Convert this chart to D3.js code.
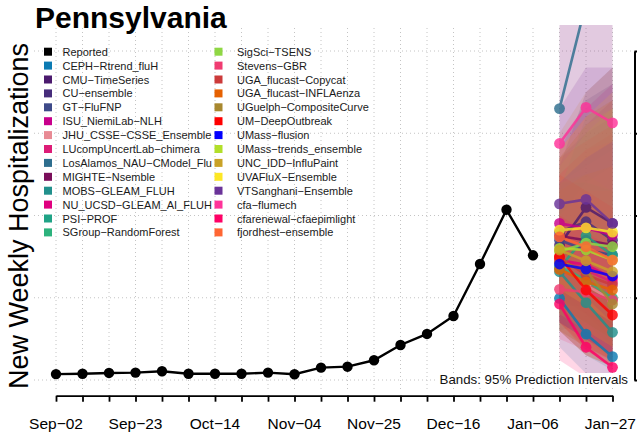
<!DOCTYPE html>
<html><head><meta charset="utf-8">
<script src="https://cdn.jsdelivr.net/npm/d3@7"></script>
<style>
body{margin:0;background:#fff}
svg{display:block;font-family:"Liberation Sans",Arial,Helvetica,sans-serif}
</style>
</head><body>
<svg id="c" width="637" height="433"></svg>
<script>
// ---------------- data ----------------
const title = "Pennsylvania";
const yLabel = "New Weekly Hospitalizations";
const bandNote = "Bands: 95% Prediction Intervals";

const weekDates = ["2023-09-02","2023-09-09","2023-09-16","2023-09-23","2023-09-30","2023-10-07","2023-10-14",
  "2023-10-21","2023-10-28","2023-11-04","2023-11-11","2023-11-18","2023-11-25","2023-12-02","2023-12-09",
  "2023-12-16","2023-12-23","2023-12-30","2024-01-06","2024-01-13","2024-01-20","2024-01-27"];
const xLabelDates = ["2023-09-02","2023-09-23","2023-10-14","2023-11-04","2023-11-25","2023-12-16","2024-01-06","2024-01-27"];
const xLabels = ["Sep−02","Sep−23","Oct−14","Nov−04","Nov−25","Dec−16","Jan−06","Jan−27"];
const yTicks = [0, 500, 1000, 1500, 2000];

const reportedDates = ["2023-09-02","2023-09-09","2023-09-16","2023-09-23","2023-09-30","2023-10-07","2023-10-14",
  "2023-10-21","2023-10-28","2023-11-04","2023-11-11","2023-11-18","2023-11-25","2023-12-02","2023-12-09",
  "2023-12-16","2023-12-23","2023-12-30","2024-01-06"];
const reportedValues = [36,38,43,45,53,38,38,38,45,35,75,81,120,213,280,389,705,1035,758];

const forecastDates = ["2024-01-13","2024-01-20","2024-01-27"];

const models = ["CEPH−Rtrend_fluH","CMU−TimeSeries","CU−ensemble","GT−FluFNP","ISU_NiemiLab−NLH",
  "JHU_CSSE−CSSE_Ensemble","LUcompUncertLab−chimera","LosAlamos_NAU−CModel_Flu","MIGHTE−Nsemble",
  "MOBS−GLEAM_FLUH","NU_UCSD−GLEAM_AI_FLUH","PSI−PROF","SGroup−RandomForest","SigSci−TSENS","Stevens−GBR",
  "UGA_flucast−Copycat","UGA_flucast−INFLAenza","UGuelph−CompositeCurve","UM−DeepOutbreak","UMass−flusion",
  "UMass−trends_ensemble","UNC_IDD−InfluPaint","UVAFluX−Ensemble","VTSanghani−Ensemble","cfa−flumech",
  "cfarenewal−cfaepimlight","fjordhest−ensemble"];
const modelColors = ["#0C7BB3","#4B1A6E","#472D7B","#3E4A89","#C8008C","#E88A94","#DD1C77","#2E6E8E","#7A0E5A",
  "#21908C","#E0007F","#20A386","#2DB27D","#8FD744","#F03B71","#CC3A3A","#E66101","#A8882F","#FF0000","#0000FF",
  "#B2DF2A","#C9A227","#FDE725","#6A3399","#FF3399","#FF0066","#FF6633"];

const medians = [
  [496,279,142],[820,1049,952],[899,962,850],[850,790,760],[952,923,881],
  [717,577,486],[741,668,595],[1650,2290,2900],[875,850,820],
  [658,470,290],[730,700,620],[680,875,760],[693,607,498],[779,832,810],[551,535,486],
  [749,638,577],[672,597,547],[717,668,462],[749,547,395],[705,674,632],
  [800,790,729],[790,725,658],[911,925,899],[1071,1098,952],[1438,1657,1563],
  [462,199,77],[870,810,729]];
const lower95 = [
  [200,40,10],[450,450,300],[500,400,250],[450,300,200],[550,400,300],
  [300,150,80],[350,200,120],[1000,1200,1300],[450,350,250],
  [300,150,60],[350,250,150],[300,350,200],[300,200,120],[400,350,250],[250,180,120],
  [300,150,80],[300,200,120],[350,250,120],[350,180,80],[350,250,150],
  [400,300,200],[300,150,80],[550,450,350],[650,500,350],[800,700,500],
  [120,15,5],[450,300,200]];
const upper95 = [
  [850,900,900],[1300,1750,1900],[1400,1700,1800],[1350,1500,1600],[1450,1650,1800],
  [1200,1300,1400],[1250,1400,1500],[2500,3600,4600],[1350,1550,1700],
  [1100,1000,900],[1250,1400,1450],[1150,1600,1700],[1200,1200,1150],[1300,1500,1650],[1000,1150,1150],
  [1350,1450,1550],[1150,1250,1300],[1200,1250,1150],[1250,1150,1050],[1200,1350,1450],
  [1350,1550,1650],[1500,1750,1900],[1400,1600,1750],[1650,1900,1900],[2300,2900,3300],
  [1000,900,800],[1400,1600,1700]];

// ---------------- drawing ----------------
const parse = d3.utcParse("%Y-%m-%d");
const svg = d3.select("#c");
const plot = {left: 34, right: 634.5, top: 25, bottom: 395.7};

const x = d3.scaleUtc().domain([parse("2023-09-02"), parse("2024-01-27")]).range([56, 612.5]);
const y = d3.scaleLinear().domain([0, 2000]).range([380, 51]);

svg.append("defs").append("clipPath").attr("id","plotclip")
  .append("rect").attr("x",plot.left).attr("y",plot.top)
  .attr("width",plot.right-plot.left).attr("height",plot.bottom-plot.top);

// grid
const grid = svg.append("g").attr("stroke","#c4c4c4").attr("stroke-width",1).attr("stroke-dasharray","1,3");
grid.selectAll("line.v").data(weekDates).join("line").attr("class","v")
  .attr("x1",d=>x(parse(d))).attr("x2",d=>x(parse(d)))
  .attr("y1",plot.top+3).attr("y2",plot.bottom-4);
grid.selectAll("line.h").data(yTicks).join("line").attr("class","h")
  .attr("x1",plot.left).attr("x2",plot.right)
  .attr("y1",d=>y(d)).attr("y2",d=>y(d));

// bands
const gClip = svg.append("g").attr("clip-path","url(#plotclip)");
const bandArea = d3.area().x(d=>x(d.date)).y0(d=>y(d.lo)).y1(d=>y(d.hi));
models.forEach((m,i)=>{
  const pts = forecastDates.map((d,j)=>({date:parse(d), lo:lower95[i][j], hi:upper95[i][j]}));
  gClip.append("path").attr("d",bandArea(pts)).attr("fill",modelColors[i]).attr("fill-opacity",0.16);
});

// reported
const line = d3.line().x(d=>x(d.date)).y(d=>y(d.v));
const rep = reportedDates.map((d,i)=>({date:parse(d), v:reportedValues[i]}));
gClip.append("path").attr("d",line(rep)).attr("fill","none").attr("stroke","#000").attr("stroke-width",2.4);
gClip.selectAll("circle.rep").data(rep).join("circle").attr("class","rep")
  .attr("cx",d=>x(d.date)).attr("cy",d=>y(d.v)).attr("r",5.2).attr("fill","#000");

// forecasts
models.forEach((m,i)=>{
  const pts = forecastDates.map((d,j)=>({date:parse(d), v:medians[i][j]}));
  const g = gClip.append("g").attr("opacity",0.82);
  g.append("path").attr("d",line(pts)).attr("fill","none").attr("stroke",modelColors[i]).attr("stroke-width",2.6);
  g.selectAll("circle").data(pts).join("circle")
    .attr("cx",d=>x(d.date)).attr("cy",d=>y(d.v)).attr("r",5.4).attr("fill",modelColors[i]);
});

// band note
svg.append("rect").attr("x",436).attr("y",373).attr("width",196).attr("height",15).attr("fill","#fff");
svg.append("text").attr("x",628).attr("y",383.5).attr("text-anchor","end")
  .attr("font-size",13.3).attr("fill","#111").text(bandNote);

// x axis
const xAxis = d3.axisBottom(x).tickValues(weekDates.map(parse)).tickSize(6).tickSizeOuter(0).tickFormat("");
const gx = svg.append("g").attr("transform",`translate(0,${plot.bottom})`).call(xAxis);
gx.selectAll("path,line").attr("stroke","#000").attr("stroke-width",1.8);
const xl = svg.append("g").selectAll("text").data(xLabelDates).join("text")
  .attr("x",d=>x(parse(d))).attr("y",429).attr("text-anchor","middle")
  .attr("font-size",15.5).attr("fill","#000").text((d,i)=>xLabels[i]);
xl.each(function(){
  const w = this.getComputedTextLength();
  const cx = +this.getAttribute("x");
  if (cx + w/2 > 636) this.setAttribute("x", 636 - w/2);
});

// right y axis (labels fall outside the picture)
const yAxis = d3.axisRight(y).tickValues(yTicks).tickSize(6).tickSizeOuter(0).tickFormat("");
const gy = svg.append("g").attr("transform",`translate(${plot.right},0)`).call(yAxis);
gy.selectAll("path,line").attr("stroke","#000").attr("stroke-width",2);

// legend
const legNames = ["Reported"].concat(models);
const legColors = ["#000000"].concat(modelColors);
const leg = svg.append("g");
legNames.forEach((n,i)=>{
  const col = Math.floor(i/14), row = i%14;
  const sx = col===0 ? 44 : 214.5;
  const tx = col===0 ? 62.5 : 237;
  const cy = 51.7 + row*13.9;
  leg.append("rect").attr("x",sx).attr("y",cy-4).attr("width",8).attr("height",8).attr("fill",legColors[i]);
  leg.append("text").attr("x",tx).attr("y",cy+4).attr("font-size",11).attr("fill","#1a1a1a").text(n);
});

// title and y label
svg.append("text").attr("x",35).attr("y",28).attr("font-size",30).attr("font-weight","bold")
  .attr("fill","#000").text(title);
svg.append("text").attr("transform","translate(28,216) rotate(-90)").attr("text-anchor","middle")
  .attr("font-size",27).attr("fill","#000").text(yLabel);
</script>
</body></html>
